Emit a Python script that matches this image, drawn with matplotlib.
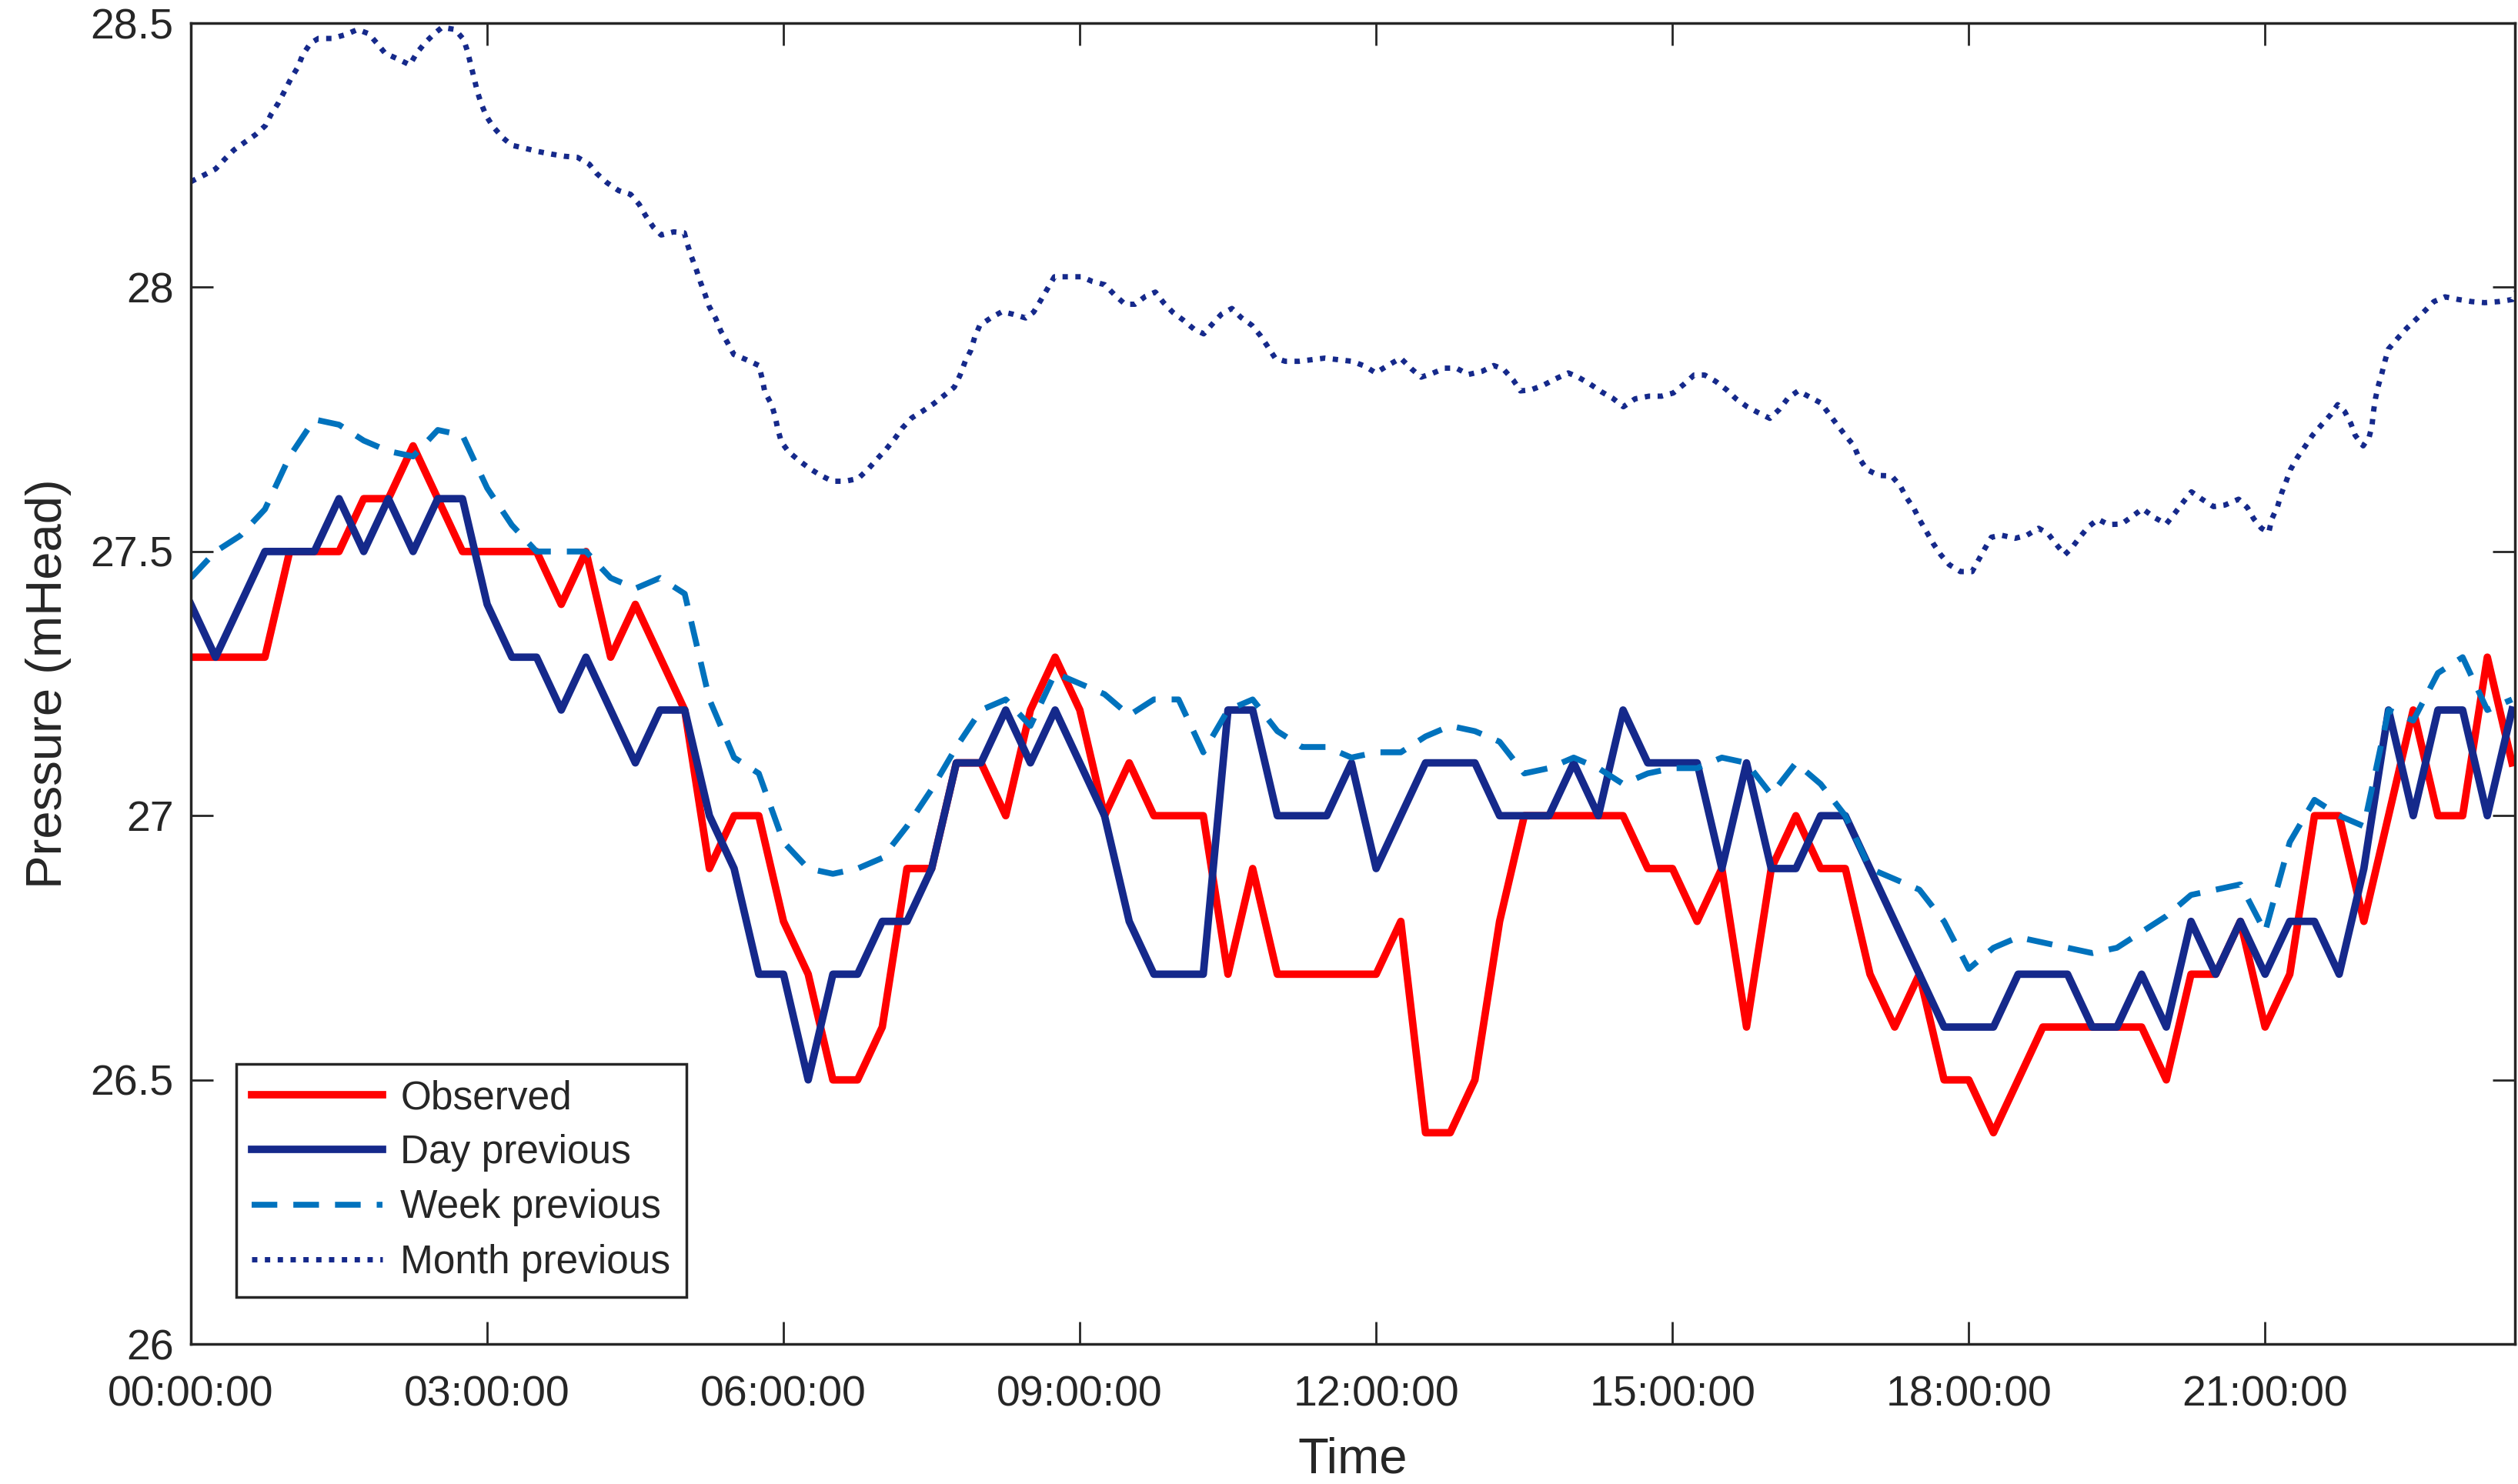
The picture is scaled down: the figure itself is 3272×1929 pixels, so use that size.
import matplotlib
matplotlib.use('Agg')
import matplotlib.pyplot as plt
from matplotlib.ticker import FixedLocator

plt.rcParams['font.family'] = ['Liberation Sans', 'DejaVu Sans']
plt.rcParams['lines.scale_dashes'] = False

# 15-minute readings, hours from midnight
hours = [i * 0.25 for i in range(95)]

observed = [
    27.3, 27.3, 27.3, 27.3, 27.5, 27.5, 27.5, 27.6, 27.6, 27.7, 27.6, 27.5,
    27.5, 27.5, 27.5, 27.4, 27.5, 27.3, 27.4, 27.3, 27.2, 26.9, 27.0, 27.0,
    26.8, 26.7, 26.5, 26.5, 26.6, 26.9, 26.9, 27.1, 27.1, 27.0, 27.2, 27.3,
    27.2, 27.0, 27.1, 27.0, 27.0, 27.0, 26.7, 26.9, 26.7, 26.7, 26.7, 26.7,
    26.7, 26.8, 26.4, 26.4, 26.5, 26.8, 27.0, 27.0, 27.0, 27.0, 27.0, 26.9,
    26.9, 26.8, 26.9, 26.6, 26.9, 27.0, 26.9, 26.9, 26.7, 26.6, 26.7, 26.5,
    26.5, 26.4, 26.5, 26.6, 26.6, 26.6, 26.6, 26.6, 26.5, 26.7, 26.7, 26.8,
    26.6, 26.7, 27.0, 27.0, 26.8, 27.0, 27.2, 27.0, 27.0, 27.3, 27.1,
]

day_prev = [
    27.4, 27.3, 27.4, 27.5, 27.5, 27.5, 27.6, 27.5, 27.6, 27.5, 27.6, 27.6,
    27.4, 27.3, 27.3, 27.2, 27.3, 27.2, 27.1, 27.2, 27.2, 27.0, 26.9, 26.7,
    26.7, 26.5, 26.7, 26.7, 26.8, 26.8, 26.9, 27.1, 27.1, 27.2, 27.1, 27.2,
    27.1, 27.0, 26.8, 26.7, 26.7, 26.7, 27.2, 27.2, 27.0, 27.0, 27.0, 27.1,
    26.9, 27.0, 27.1, 27.1, 27.1, 27.0, 27.0, 27.0, 27.1, 27.0, 27.2, 27.1,
    27.1, 27.1, 26.9, 27.1, 26.9, 26.9, 27.0, 27.0, 26.9, 26.8, 26.7, 26.6,
    26.6, 26.6, 26.7, 26.7, 26.7, 26.6, 26.6, 26.7, 26.6, 26.8, 26.7, 26.8,
    26.7, 26.8, 26.8, 26.7, 26.9, 27.2, 27.0, 27.2, 27.2, 27.0, 27.2,
]

week_prev = [
    27.45, 27.50, 27.53, 27.58, 27.68, 27.75, 27.74, 27.71, 27.69, 27.68, 27.73, 27.72,
    27.62, 27.55, 27.50, 27.50, 27.50, 27.45, 27.43, 27.45, 27.42, 27.22, 27.11, 27.08,
    26.95, 26.90, 26.89, 26.90, 26.92, 26.98, 27.05, 27.13, 27.20, 27.22, 27.17, 27.27,
    27.25, 27.23, 27.19, 27.22, 27.22, 27.12, 27.20, 27.22, 27.16, 27.13, 27.13, 27.11,
    27.12, 27.12, 27.15, 27.17, 27.16, 27.14, 27.08, 27.09, 27.11, 27.09, 27.06, 27.08,
    27.09, 27.09, 27.11, 27.10, 27.04, 27.10, 27.06, 27.00, 26.90, 26.88, 26.86, 26.80,
    26.71, 26.75, 26.77, 26.76, 26.75, 26.74, 26.75, 26.78, 26.81, 26.85, 26.86, 26.87,
    26.78, 26.95, 27.03, 27.00, 26.98, 27.20, 27.18, 27.27, 27.30, 27.20, 27.22,
]

# month-previous series is logged more finely
month_hours = [
    0.000, 0.138, 0.250, 0.345, 0.436, 0.556, 0.655, 0.754, 0.814, 0.886, 0.953, 1.013,
    1.084, 1.132, 1.211, 1.291, 1.430, 1.561, 1.689, 1.800, 1.879, 1.967, 2.098, 2.217,
    2.285, 2.372, 2.464, 2.543, 2.675, 2.762, 2.802, 2.834, 2.869, 2.901, 2.941, 2.992,
    3.060, 3.159, 3.247, 3.386, 3.517, 3.656, 3.787, 3.915, 4.034, 4.106, 4.213, 4.332,
    4.452, 4.539, 4.603, 4.682, 4.762, 4.889, 4.996, 5.028, 5.068, 5.120, 5.159, 5.207,
    5.247, 5.314, 5.366, 5.434, 5.497, 5.624, 5.751, 5.783, 5.811, 5.880, 5.920, 5.940,
    5.979, 6.051, 6.158, 6.266, 6.377, 6.496, 6.623, 6.755, 6.862, 6.942, 7.041, 7.132,
    7.200, 7.299, 7.403, 7.522, 7.637, 7.729, 7.788, 7.840, 7.895, 7.935, 7.987, 8.106,
    8.213, 8.325, 8.452, 8.532, 8.603, 8.675, 8.743, 8.882, 9.021, 9.128, 9.252, 9.351,
    9.458, 9.558, 9.665, 9.765, 9.848, 9.940, 10.047, 10.155, 10.254, 10.353, 10.433, 10.540,
    10.632, 10.743, 10.831, 10.902, 10.978, 11.081, 11.216, 11.348, 11.479, 11.618, 11.757, 11.884,
    11.996, 12.117, 12.248, 12.356, 12.455, 12.567, 12.694, 12.813, 12.933, 13.072, 13.191, 13.290,
    13.390, 13.461, 13.569, 13.696, 13.807, 13.946, 14.046, 14.165, 14.284, 14.396, 14.503, 14.622,
    14.762, 14.889, 15.008, 15.119, 15.219, 15.326, 15.438, 15.549, 15.644, 15.756, 15.867, 15.986,
    16.082, 16.173, 16.273, 16.384, 16.504, 16.583, 16.671, 16.750, 16.838, 16.889, 16.969, 17.088,
    17.219, 17.307, 17.366, 17.446, 17.505, 17.577, 17.644, 17.716, 17.803, 17.915, 18.034, 18.087,
    18.158, 18.229, 18.328, 18.470, 18.590, 18.707, 18.802, 18.884, 18.972, 19.043, 19.132, 19.213,
    19.309, 19.415, 19.546, 19.652, 19.759, 19.883, 19.999, 20.088, 20.169, 20.254, 20.361, 20.478,
    20.594, 20.732, 20.821, 20.885, 20.963, 21.037, 21.069, 21.126, 21.168, 21.214, 21.257, 21.327,
    21.409, 21.480, 21.568, 21.664, 21.735, 21.806, 21.869, 21.912, 21.993, 22.054, 22.082, 22.096,
    22.117, 22.142, 22.178, 22.213, 22.248, 22.344, 22.436, 22.532, 22.620, 22.709, 22.822, 22.957,
    23.092, 23.223, 23.364, 23.506, 23.559,
]

month_prev = [
    28.200, 28.213, 28.224, 28.243, 28.260, 28.276, 28.289, 28.306, 28.328, 28.349, 28.373, 28.395,
    28.417, 28.440, 28.462, 28.471, 28.471, 28.478, 28.488, 28.480, 28.463, 28.443, 28.432, 28.421,
    28.443, 28.463, 28.480, 28.492, 28.488, 28.469, 28.446, 28.421, 28.395, 28.370, 28.347, 28.324,
    28.304, 28.283, 28.269, 28.263, 28.257, 28.252, 28.248, 28.246, 28.233, 28.216, 28.198, 28.183,
    28.176, 28.157, 28.136, 28.114, 28.099, 28.105, 28.103, 28.081, 28.058, 28.032, 28.010, 27.986,
    27.964, 27.941, 27.917, 27.895, 27.873, 27.863, 27.852, 27.828, 27.802, 27.778, 27.752, 27.733,
    27.707, 27.689, 27.672, 27.657, 27.644, 27.633, 27.633, 27.638, 27.657, 27.674, 27.694, 27.715,
    27.733, 27.753, 27.765, 27.780, 27.797, 27.811, 27.834, 27.860, 27.880, 27.905, 27.928, 27.943,
    27.954, 27.949, 27.942, 27.953, 27.975, 27.998, 28.020, 28.020, 28.020, 28.011, 28.005, 27.986,
    27.968, 27.968, 27.983, 27.991, 27.971, 27.953, 27.938, 27.921, 27.912, 27.933, 27.949, 27.960,
    27.943, 27.928, 27.908, 27.888, 27.866, 27.860, 27.860, 27.863, 27.866, 27.863, 27.860, 27.851,
    27.838, 27.852, 27.866, 27.846, 27.830, 27.837, 27.847, 27.847, 27.835, 27.841, 27.852, 27.845,
    27.824, 27.804, 27.806, 27.815, 27.826, 27.838, 27.830, 27.817, 27.802, 27.790, 27.774, 27.789,
    27.794, 27.794, 27.800, 27.817, 27.834, 27.834, 27.822, 27.806, 27.789, 27.774, 27.763, 27.752,
    27.769, 27.791, 27.804, 27.793, 27.781, 27.761, 27.739, 27.720, 27.700, 27.677, 27.655, 27.644,
    27.643, 27.624, 27.603, 27.581, 27.559, 27.536, 27.514, 27.494, 27.475, 27.462, 27.462, 27.480,
    27.504, 27.527, 27.531, 27.525, 27.531, 27.544, 27.534, 27.514, 27.494, 27.507, 27.529, 27.547,
    27.561, 27.551, 27.552, 27.566, 27.581, 27.564, 27.552, 27.573, 27.593, 27.613, 27.599, 27.585,
    27.588, 27.599, 27.583, 27.562, 27.544, 27.536, 27.562, 27.585, 27.611, 27.633, 27.655, 27.678,
    27.700, 27.720, 27.739, 27.759, 27.778, 27.765, 27.742, 27.720, 27.700, 27.717, 27.737, 27.763,
    27.789, 27.811, 27.834, 27.860, 27.883, 27.904, 27.923, 27.940, 27.956, 27.973, 27.982, 27.977,
    27.973, 27.971, 27.973, 27.977, 27.997,
]

tick_hours = [0, 3, 6, 9, 12, 15, 18, 21]
tick_labels = ['00:00:00', '03:00:00', '06:00:00', '09:00:00',
               '12:00:00', '15:00:00', '18:00:00', '21:00:00']
y_ticks = [26, 26.5, 27, 27.5, 28, 28.5]
y_labels = ['26', '26.5', '27', '27.5', '28', '28.5']

navy = '#15298b'
ink = '#262626'

fig = plt.figure(figsize=(32.72, 19.29), dpi=100)
ax = fig.add_axes([0.0758, 0.0943, 0.9230, 0.8901])

ax.plot(hours, observed, color='#ff0000', lw=7, label='Observed')
ax.plot(hours, day_prev, color=navy, lw=7, label='Day previous')
ax.plot(hours, week_prev, color='#0072bd', lw=5.5, dashes=(24, 15), label='Week previous')
ax.plot(month_hours, month_prev, color=navy, lw=5, dashes=(5, 7), label='Month previous')

ax.set_xlim(0, 23.53)
ax.set_ylim(26, 28.5)
ax.xaxis.set_major_locator(FixedLocator(tick_hours))
ax.set_xticklabels(tick_labels)
ax.set_yticks(y_ticks)
ax.set_yticklabels(y_labels)

ax.tick_params(which='both', direction='in', top=True, right=True,
               length=21, width=2, colors=ink, labelsize=40)
ax.tick_params(axis='x', pad=29)
ax.tick_params(axis='y', pad=16)
for sp in ax.spines.values():
    sp.set_color(ink)
    sp.set_linewidth(2.5)

ax.set_xlabel('Time', fontsize=47, color=ink, labelpad=20)
ax.set_ylabel('Pressure (mHead)', fontsize=47, color=ink, labelpad=18)

leg = ax.legend(loc='lower left', bbox_to_anchor=(0.0195, 0.0355), borderaxespad=0,
                fontsize=37, handlelength=3.3, handletextpad=0.45, labelspacing=0.43,
                borderpad=0.4, fancybox=False, framealpha=1)
leg.get_frame().set_edgecolor(ink)
leg.get_frame().set_linewidth(2.5)
for t in leg.get_texts():
    t.set_color(ink)

fig.savefig('out.png', dpi=100)
